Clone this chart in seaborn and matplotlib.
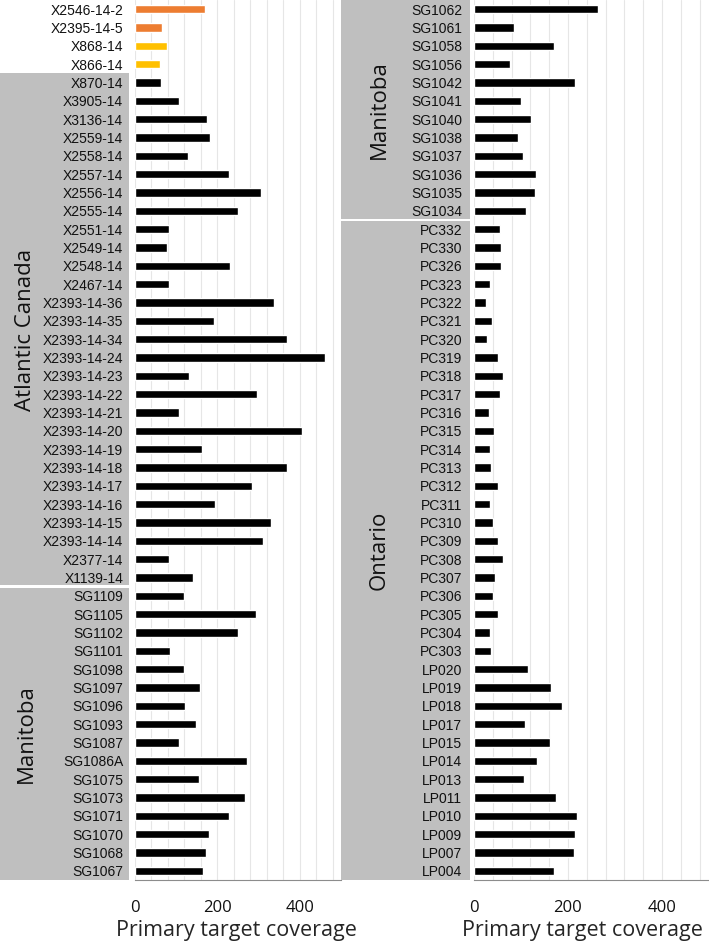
import numpy as np
import pandas as pd
import matplotlib
matplotlib.use("Agg")
import matplotlib.pyplot as plt
import matplotlib.transforms as mtransforms
from matplotlib.patches import Rectangle
import seaborn as sns

# --- data ---
left_sites = ['X2546-14-2', 'X2395-14-5', 'X868-14', 'X866-14',
              'X870-14', 'X3905-14', 'X3136-14', 'X2559-14', 'X2558-14', 'X2557-14',
              'X2556-14', 'X2555-14', 'X2551-14', 'X2549-14', 'X2548-14', 'X2467-14',
              'X2393-14-36', 'X2393-14-35', 'X2393-14-34', 'X2393-14-24', 'X2393-14-23',
              'X2393-14-22', 'X2393-14-21', 'X2393-14-20', 'X2393-14-19', 'X2393-14-18',
              'X2393-14-17', 'X2393-14-16', 'X2393-14-15', 'X2393-14-14', 'X2377-14', 'X1139-14',
              'SG1109', 'SG1105', 'SG1102', 'SG1101', 'SG1098', 'SG1097', 'SG1096', 'SG1093',
              'SG1087', 'SG1086A', 'SG1075', 'SG1073', 'SG1071', 'SG1070', 'SG1068', 'SG1067']
left_cov = [170, 66, 77, 61,
            63, 107, 175, 182, 129, 227,
            305, 249, 83, 77, 231, 82,
            338, 191, 368, 461, 130,
            297, 107, 406, 163, 368,
            285, 195, 331, 310, 82, 141,
            120, 294, 251, 86, 119, 158, 122, 149,
            108, 271, 156, 267, 227, 179, 172, 165]
left_colors = ['#ED7D31', '#ED7D31', '#FFC000', '#FFC000'] + ['#000000'] * 44

right_sites = ['SG1062', 'SG1061', 'SG1058', 'SG1056', 'SG1042', 'SG1041', 'SG1040', 'SG1038',
               'SG1037', 'SG1036', 'SG1035', 'SG1034',
               'PC332', 'PC330', 'PC326', 'PC323', 'PC322', 'PC321', 'PC320', 'PC319',
               'PC318', 'PC317', 'PC316', 'PC315', 'PC314', 'PC313', 'PC312', 'PC311',
               'PC310', 'PC309', 'PC308', 'PC307', 'PC306', 'PC305', 'PC304', 'PC303',
               'LP020', 'LP019', 'LP018', 'LP017', 'LP015', 'LP014', 'LP013', 'LP011',
               'LP010', 'LP009', 'LP007', 'LP004']
right_cov = [264, 86, 171, 77, 214, 101, 121, 93,
             104, 132, 130, 110,
             55, 57, 57, 35, 25, 38, 27, 52,
             61, 55, 31, 42, 35, 37, 52, 35,
             41, 51, 61, 45, 40, 50, 34, 37,
             114, 164, 188, 108, 161, 134, 107, 174,
             219, 214, 212, 171]
right_colors = ['#000000'] * 48

# region name, first row, last row
left_regions = [('Atlantic Canada', 4, 31), ('Manitoba', 32, 47)]
right_regions = [('Manitoba', 0, 11), ('Ontario', 12, 47)]

# --- style ---
sns.set_style("white")
plt.rcParams['font.family'] = ['Open Sans', 'DejaVu Sans']

W, H = 709, 942
fig = plt.figure(figsize=(W / 100, H / 100), dpi=100)
ax1 = fig.add_axes([135 / W, 62 / H, 206 / W, 880 / H])
ax2 = fig.add_axes([474 / W, 62 / H, 235 / W, 880 / H])


def draw_panel(ax, sites, cov, colors, regions, band_x0, band_x1, text_x, label_x):
    df = pd.DataFrame({'site': sites, 'cov': cov})
    sns.barplot(data=df, x='cov', y='site', hue='site', palette=colors, legend=False,
                orient='h', width=0.47, saturation=1, ax=ax)
    ax.set_xlim(0, 500)
    ax.set_xticks([0, 200, 400])
    ax.set_xticks(np.arange(0, 501, 40), minor=True)
    ax.grid(axis='x', which='both', color='#e6e6e6', lw=0.8)
    ax.set_axisbelow(True)
    ax.tick_params(axis='x', which='minor', length=0)
    ax.tick_params(axis='x', which='major', length=5, width=1, color='#8c8c8c',
                   pad=9.5, labelsize=12, labelcolor='#111111')
    ax.tick_params(axis='y', length=0, pad=8.5, labelsize=10, labelcolor='#111111')
    plt.setp(ax.get_yticklabels(), family='Liberation Sans')
    sns.despine(ax=ax, left=True)
    ax.spines['bottom'].set_color('#8c8c8c')
    ax.set_ylabel('')
    ax.set_xlabel('Primary target coverage', fontsize=15.5)
    ax.xaxis.set_label_coords(label_x, -0.046, transform=ax.transAxes)
    ax.xaxis.label.set_va('top')

    # grey region bands to the left of the tick labels
    trans = mtransforms.blended_transform_factory(fig.transFigure, ax.transData)
    n = len(sites)
    for name, r0, r1 in regions:
        top = r0 - 0.5 + (0.08 if r0 > 4 else 0)
        bot = r1 + 0.5 - (0.08 if r1 < n - 1 else 0)
        ax.add_patch(Rectangle((band_x0 / W, top), (band_x1 - band_x0) / W, bot - top,
                               transform=trans, facecolor='#bfbfbf', edgecolor='none',
                               clip_on=False, zorder=0))
        ax.text(text_x / W, (r0 + r1) / 2, name, transform=trans, rotation=90,
                ha='center', va='center', fontsize=16, color='#111111')


draw_panel(ax1, left_sites, left_cov, left_colors, left_regions, 0, 129, 26, 0.49)
draw_panel(ax2, right_sites, right_cov, right_colors, right_regions, 341, 470, 379, 0.462)

fig.savefig('out.png', dpi=100)
